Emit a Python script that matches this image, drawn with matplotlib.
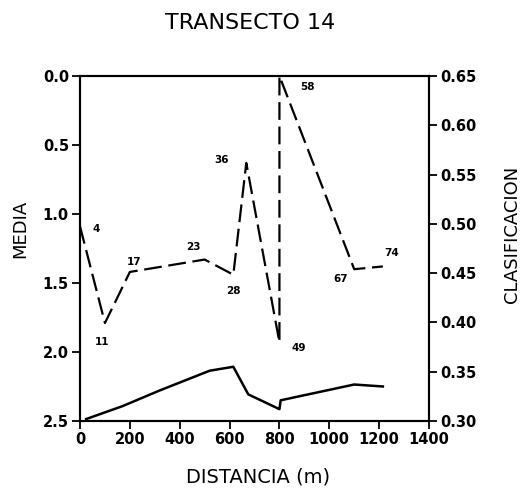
import matplotlib
matplotlib.use("Agg")
import matplotlib.pyplot as plt

# Dashed series (MEDIA, left axis, inverted) with sample labels
media_x = [0, 100, 200, 500, 615, 667, 800, 800, 1100, 1215]
media_y = [1.09, 1.79, 1.42, 1.33, 1.44, 0.63, 1.93, 0.0, 1.40, 1.38]
media_lbl = ["4", "11", "17", "23", "28", "36", "49", "58", "67", "74"]
# label offsets in points (style only)
lbl_off = [(12, -2), (-2, -14), (3, 7), (-8, 9), (0, -12), (-18, 2), (14, -4), (20, -8), (-10, -7), (6, 10)]

# Solid series (CLASIFICACION, right axis)
clas_x = [25, 170, 320, 520, 615, 675, 800, 805, 1100, 1215]
clas_y = [0.302, 0.315, 0.331, 0.351, 0.355, 0.327, 0.312, 0.321, 0.337, 0.335]

x_ticks = [0, 200, 400, 600, 800, 1000, 1200, 1400]
left_ticks = [0.0, 0.5, 1.0, 1.5, 2.0, 2.5]
right_ticks = [0.30, 0.35, 0.40, 0.45, 0.50, 0.55, 0.60, 0.65]

fig = plt.figure(figsize=(5.24, 4.91), dpi=100)
ax = fig.add_axes([0.1527, 0.1426, 0.666, 0.7026])
ax2 = ax.twinx()

tick_font = dict(fontsize=10.5, fontweight="bold")

ax.plot(media_x, media_y, color="black", lw=1.6, linestyle=(0, (8, 3)), clip_on=False)
for xv, yv, t, off in zip(media_x, media_y, media_lbl, lbl_off):
    ax.annotate(t, (xv, yv), xytext=off, textcoords="offset points",
                ha="center", va="center", fontsize=7.5, fontweight="bold")

ax.set_xlim(0, 1400)
ax.set_ylim(2.5, 0.0)
ax.set_xticks(x_ticks)
ax.set_xticklabels([str(v) for v in x_ticks], **tick_font)
ax.set_yticks(left_ticks)
ax.set_yticklabels([f"{v:.1f}" for v in left_ticks], **tick_font)

ax2.plot(clas_x, clas_y, color="black", lw=1.8)
ax2.set_ylim(0.30, 0.65)
ax2.set_yticks(right_ticks)
ax2.set_yticklabels([f"{v:.2f}" for v in right_ticks], **tick_font)

for a in (ax, ax2):
    for s in a.spines.values():
        s.set_linewidth(1.5)
ax.tick_params(axis="both", direction="out", length=6, width=1.3, pad=2)
ax2.tick_params(axis="y", direction="out", length=6, width=1.3, pad=2)

fig.text(0.477, 0.954, "TRANSECTO 14", ha="center", va="center", fontsize=16)
fig.text(0.493, 0.029, "DISTANCIA (m)", ha="center", va="center", fontsize=14)
fig.text(0.038, 0.533, "MEDIA", ha="center", va="center", rotation=90, fontsize=13)
fig.text(0.9765, 0.523, "CLASIFICACION", ha="center", va="center", rotation=90, fontsize=13)

fig.savefig("out.png", dpi=100)
